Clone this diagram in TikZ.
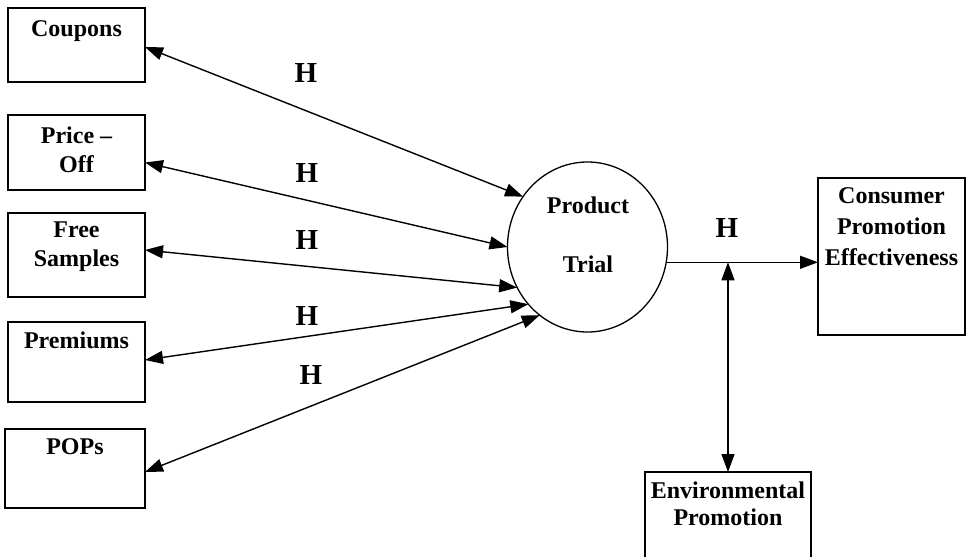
\documentclass[tikz,border=0pt]{standalone}
\usepackage{fontspec}
\setmainfont{Liberation Serif}
\usetikzlibrary{arrows.meta,shapes.geometric}
\begin{document}
\begin{tikzpicture}[x=1pt,y=-1pt,
  box/.style={draw,line width=1.3pt,rectangle,inner sep=0pt,outer sep=0pt,anchor=north west},
  lbl/.style={font=\fontsize{24}{29}\selectfont\bfseries,align=center,inner sep=0pt,anchor=north},
  hl/.style={font=\fontsize{29}{32}\selectfont\bfseries,inner sep=0pt},
  conn/.style={line width=1.4pt,{Triangle[length=18pt,width=13pt]}-{Triangle[length=18pt,width=13pt]}},
  oneway/.style={line width=1.4pt,-{Triangle[length=18pt,width=13pt]}}]
\useasboundingbox (0,0) rectangle (970,557);
\clip (0,0) rectangle (970,557);
\fill[white] (0,0) rectangle (970,557);

% left boxes
\node[box,minimum width=137pt,minimum height=74pt] (coupons) at (8,8) {};
\node[box,minimum width=137pt,minimum height=75pt] (price) at (8,115) {};
\node[box,minimum width=137pt,minimum height=84pt] (free) at (8,213) {};
\node[box,minimum width=137pt,minimum height=80pt] (premiums) at (8,322) {};
\node[box,minimum width=140pt,minimum height=79pt] (pops) at (5,429) {};

\node[lbl] (tcoupons) at (76.5,20) {Coupons};
\node[lbl] (tprice) at (76.5,127) {Price --\\Off};
\node[lbl] (tfree) at (76.5,222) {Free\\Samples};
\node[lbl] (tpremiums) at (76.5,332) {Premiums};
\node[lbl] (tpops) at (75,438) {POPs};

% product trial
\node[ellipse,draw,line width=1.3pt,minimum width=160pt,minimum height=170pt,inner sep=0pt,outer sep=0pt] (trial) at (587.5,247) {};
\node[lbl] (tproduct) at (588,197) {Product};
\node[lbl] (ttrial) at (588,256) {Trial};

% right boxes
\node[box,minimum width=147pt,minimum height=157pt] (cpe) at (818,178) {};
\node[lbl,font=\fontsize{24}{31}\selectfont\bfseries] (tcpe) at (891.5,187) {Consumer\\Promotion\\Effectiveness};
\node[box,minimum width=166pt,minimum height=110pt] (env) at (645,472) {};
\node[lbl,font=\fontsize{24}{27}\selectfont\bfseries] (tenv) at (728,482) {Environmental\\Promotion};

% H labels
\node[hl] (h1) at (306,73) {H};
\node[hl] (h2) at (307,173) {H};
\node[hl] (h3) at (307,240) {H};
\node[hl] (h4) at (307,316) {H};
\node[hl] (h5) at (311,375) {H};
\node[hl] (h6) at (727,228) {H};

% connectors
\draw[conn] ([yshift=-2pt]coupons.east) -- (trial.142);
\draw[conn] ([yshift=-10pt]price.east) -- (trial.180);
\draw[conn] ([yshift=5pt]free.east) -- (trial.210);
\draw[conn] ([yshift=2pt]premiums.east) -- (trial.224);
\draw[conn] ([yshift=-3.5pt]pops.east) -- (trial.235);

\coordinate (j) at (trial.-11 -| env.north);
\draw[oneway] (trial.-11) -- (trial.-11 -| cpe.west);
\draw[conn] (j) -- (env.north);
\end{tikzpicture}
\end{document}
